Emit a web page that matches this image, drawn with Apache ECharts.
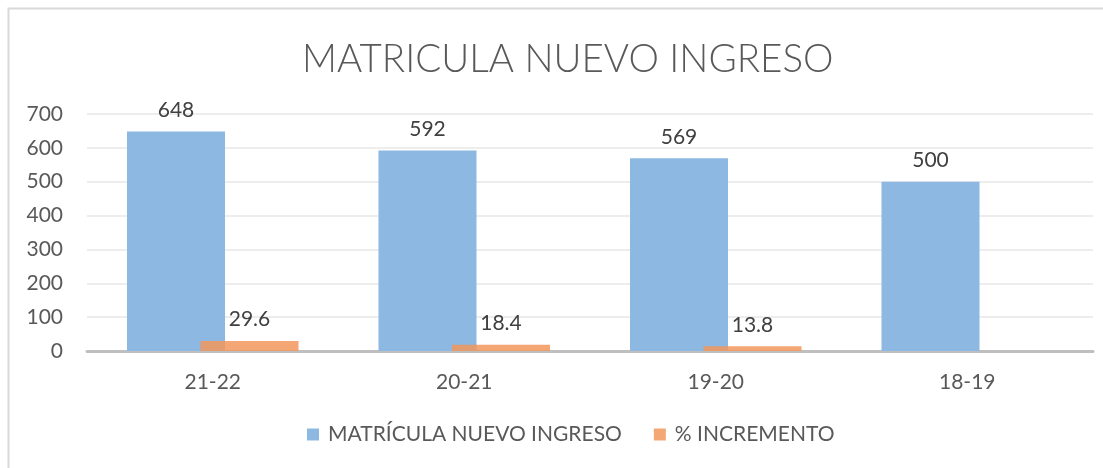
<!DOCTYPE html>
<html>
<head>
<meta charset="utf-8">
<script src="https://cdn.jsdelivr.net/npm/echarts@6/dist/echarts.min.js"></script>
<style>
  html, body { margin: 0; padding: 0; background: #fff; }
  #main { width: 1103px; height: 468px; }
</style>
</head>
<body>
<div id="main"></div>
<script>
// datos del grafico
const periodos = ['21-22', '20-21', '19-20', '18-19']
const matricula = [648, 592, 569, 500]
const incremento = [29.6, 18.4, 13.8, null]
const yTicks = { min: 0, max: 700, interval: 100 }

const font = 'Lato, "Open Sans", sans-serif'

const chart = echarts.init(document.getElementById('main'))

const labelOpt = {
  show: true,
  position: 'top',
  distance: 11,
  color: '#404040',
  fontSize: 21,
  fontFamily: font
}

chart.setOption({
  animation: false,
  // marco del grafico
  graphic: [{
    type: 'rect',
    shape: { x: 8.5, y: 8.5, width: 1110, height: 470 },
    style: { fill: 'none', stroke: '#d9d9d9', lineWidth: 2 },
    silent: true
  }],
  title: {
    text: 'MATRICULA NUEVO INGRESO',
    left: 297,
    top: 35,
    textStyle: {
      color: '#595959',
      fontSize: 38.5,
      fontWeight: 300,
      fontFamily: font
    }
  },
  legend: {
    bottom: 18,
    left: 302,
    itemWidth: 12,
    itemHeight: 12,
    itemGap: 32,
    icon: 'rect',
    textStyle: { color: '#595959', fontSize: 21, fontFamily: font, padding: [0, 0, 0, 4] },
    data: ['MATRÍCULA NUEVO INGRESO', '% INCREMENTO']
  },
  grid: { left: 87, right: 10, top: 114, bottom: 117, containLabel: false },
  xAxis: {
    type: 'category',
    data: periodos,
    axisTick: { show: false },
    axisLine: { lineStyle: { color: '#bfbfbf', width: 3 } },
    axisLabel: { color: '#595959', fontSize: 21, fontFamily: font, margin: 21 }
  },
  yAxis: {
    type: 'value',
    min: yTicks.min,
    max: yTicks.max,
    interval: yTicks.interval,
    axisLine: { show: false },
    axisTick: { show: false },
    splitLine: { lineStyle: { color: '#ededed', width: 2 } },
    axisLabel: { color: '#595959', fontSize: 21, fontFamily: font, margin: 24 }
  },
  series: [
    {
      name: 'MATRÍCULA NUEVO INGRESO',
      type: 'bar',
      data: matricula,
      barWidth: 98,
      barGap: '-25%',
      itemStyle: { color: '#8cb8e2' },
      label: labelOpt
    },
    {
      name: '% INCREMENTO',
      type: 'bar',
      data: incremento,
      barWidth: 98,
      itemStyle: { color: 'rgba(242,150,92,0.85)' },
      label: labelOpt,
      z: 3
    }
  ]
})
</script>
</body>
</html>
